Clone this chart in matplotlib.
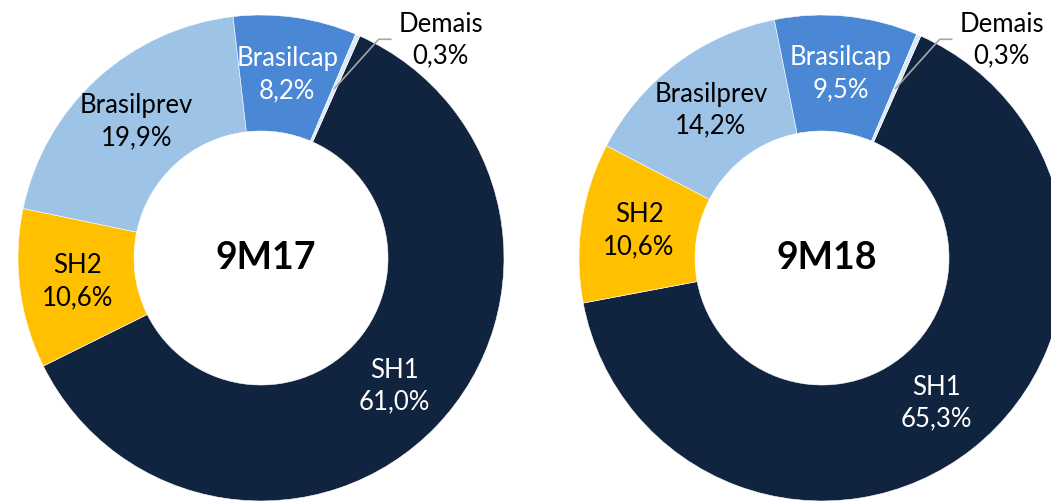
import numpy as np
import matplotlib.pyplot as plt

# dados
categorias = ['SH1', 'SH2', 'Brasilprev', 'Brasilcap', 'Demais']
valores_9m17 = [61.0, 10.6, 19.9, 8.2, 0.3]
valores_9m18 = [65.3, 10.6, 14.2, 9.5, 0.3]
titulos = ['9M17', '9M18']
cores = ['#11243f', '#ffc000', '#9dc3e6', '#4a87d4', '#dbe8f5']
cor_texto = ['white', 'black', 'black', 'white', 'black']

plt.rcParams['font.family'] = ['Lato', 'DejaVu Sans']

fig = plt.figure(figsize=(10.51, 5.01), dpi=100)
ax = fig.add_axes([0, 0, 1, 1])

raio = 243
largura = 116
centros = [(261, 243), (822, 243)]


def fmt(v):
    return f'{v:.1f}%'.replace('.', ',')


for valores, titulo, centro in zip([valores_9m17, valores_9m18], titulos, centros):
    wedges, _ = ax.pie(valores, colors=cores, startangle=66, counterclock=False,
                       radius=raio, center=centro,
                       wedgeprops=dict(width=largura, edgecolor='white', linewidth=0.4))
    r_meio = raio - largura / 2
    for i, w in enumerate(wedges):
        ang = np.deg2rad((w.theta1 + w.theta2) / 2)
        px = centro[0] + r_meio * np.cos(ang)
        py = centro[1] + r_meio * np.sin(ang)
        texto = categorias[i] + '\n' + fmt(valores[i])
        if categorias[i] == 'Demais':
            # rotulo externo com linha de chamada
            ax.plot([px, px + 44, px + 56], [py, py + 49, py + 49], color='#a6a6a6', lw=1.2)
            ax.text(px + 106, py + 48, texto, ha='center', va='center', fontsize=18.5,
                    color='black', linespacing=1.35)
        else:
            ax.text(px, py, texto, ha='center', va='center', fontsize=18.5,
                    color=cor_texto[i], linespacing=1.35)
    ax.text(centro[0] + 5, centro[1], titulo, ha='center', va='center', fontsize=27,
            fontweight='bold', color='black')

ax.set_xlim(0, 1051)
ax.set_ylim(0, 501)
ax.set_aspect('equal')
ax.axis('off')

fig.savefig('out.png', dpi=100)
